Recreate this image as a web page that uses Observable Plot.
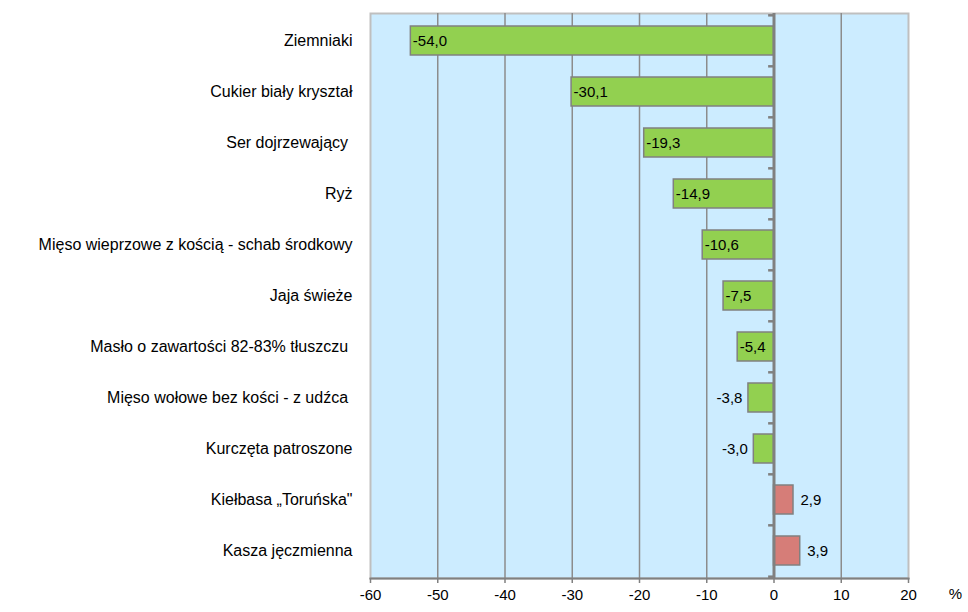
<!DOCTYPE html>
<html>
<head>
<meta charset="utf-8">
<script src="https://cdn.jsdelivr.net/npm/d3@7"></script>
<script src="https://cdn.jsdelivr.net/npm/@observablehq/plot@0.6"></script>
<style>
  html, body { margin: 0; padding: 0; background: #ffffff; }
  #chart svg text { white-space: pre; }
</style>
</head>
<body>
<div id="chart"></div>
<script>
// Categories (top to bottom) and percentage changes
const categories = [
  "Ziemniaki",
  "Cukier biały kryształ",
  "Ser dojrzewający ",
  "Ryż",
  "Mięso wieprzowe z kością - schab środkowy",
  "Jaja świeże",
  "Masło o zawartości 82-83% tłuszczu ",
  "Mięso wołowe bez kości - z udźca ",
  "Kurczęta patroszone",
  "Kiełbasa „Toruńska\"",
  "Kasza jęczmienna"
];
const values = [-54.0, -30.1, -19.3, -14.9, -10.6, -7.5, -5.4, -3.8, -3.0, 2.9, 3.9];
const xTicks = [-60, -50, -40, -30, -20, -10, 0, 10, 20];
const gridTicks = [-50, -40, -30, -20, -10, 10];

const data = categories.map((name, i) => ({name, value: values[i]}));
const fmt = v => v.toFixed(1).replace(".", ",");

const W = 968, H = 612;
const mt = 13, mb = 34, ml = 370, mr = 60;
const step = (H - mt - mb) / categories.length;

const green = "#92D050", red = "#D67D78", barStroke = "#808080";
const font = "'Liberation Sans', Arial, sans-serif";

const chart = Plot.plot({
  width: W,
  height: H,
  marginTop: mt,
  marginBottom: mb,
  marginLeft: ml,
  marginRight: mr,
  style: {fontFamily: font, fontSize: "15px", color: "#000", background: "#fff"},
  x: {domain: [-60, 20]},
  y: {domain: categories, paddingInner: 0.44, paddingOuter: 0.22},
  marks: [
    Plot.frame({fill: "#CCECFF", stroke: "#BFBFBF", strokeWidth: 2}),
    Plot.gridX(gridTicks, {stroke: "#8C8C8C", strokeOpacity: 1, strokeWidth: 1.5}),
    Plot.barX(data, {
      x: "value", y: "name",
      fill: d => d.value < 0 ? green : red,
      stroke: barStroke, strokeWidth: 1.5
    }),
    // zero axis line with small category separators
    Plot.ruleX([0], {stroke: "#808080", strokeWidth: 3}),
    Plot.ruleY(categories, {y: d => d, x1: -0.8, x2: 0, dy: -step / 2, stroke: "#808080", strokeWidth: 2.5}),
    Plot.ruleY([categories[categories.length - 1]], {y: d => d, x1: -0.8, x2: 0, dy: step / 2, stroke: "#808080", strokeWidth: 2.5}),
    // bottom axis line
    Plot.frame({anchor: "bottom", stroke: "#808080", strokeWidth: 2}),
    Plot.axisX({
      ticks: xTicks, tickSize: 5, tickPadding: 6, stroke: "#808080", strokeWidth: 1.5,
      tickFormat: d => String(d).replace("−", "-"), label: null, fontSize: 15
    }),
    Plot.axisY({tickSize: 0, tickPadding: 18, label: null, fontSize: 16}),
    // value labels
    Plot.text(data.filter(d => d.value <= -5), {
      x: "value", y: "name", text: d => fmt(d.value), textAnchor: "start", dx: 2, fontSize: 15, fill: "#000"
    }),
    Plot.text(data.filter(d => d.value < 0 && d.value > -5), {
      x: "value", y: "name", text: d => fmt(d.value), textAnchor: "end", dx: -6, fontSize: 15, fill: "#000"
    }),
    Plot.text(data.filter(d => d.value > 0), {
      x: "value", y: "name", text: d => fmt(d.value), textAnchor: "start", dx: 7, fontSize: 15, fill: "#000"
    }),
    // unit label
    Plot.text(["%"], {frameAnchor: "bottom-right", text: d => d, dx: 47, dy: 20, textAnchor: "middle", fontSize: 15, fill: "#000"})
  ]
});
document.getElementById("chart").appendChild(chart);
</script>
</body>
</html>
